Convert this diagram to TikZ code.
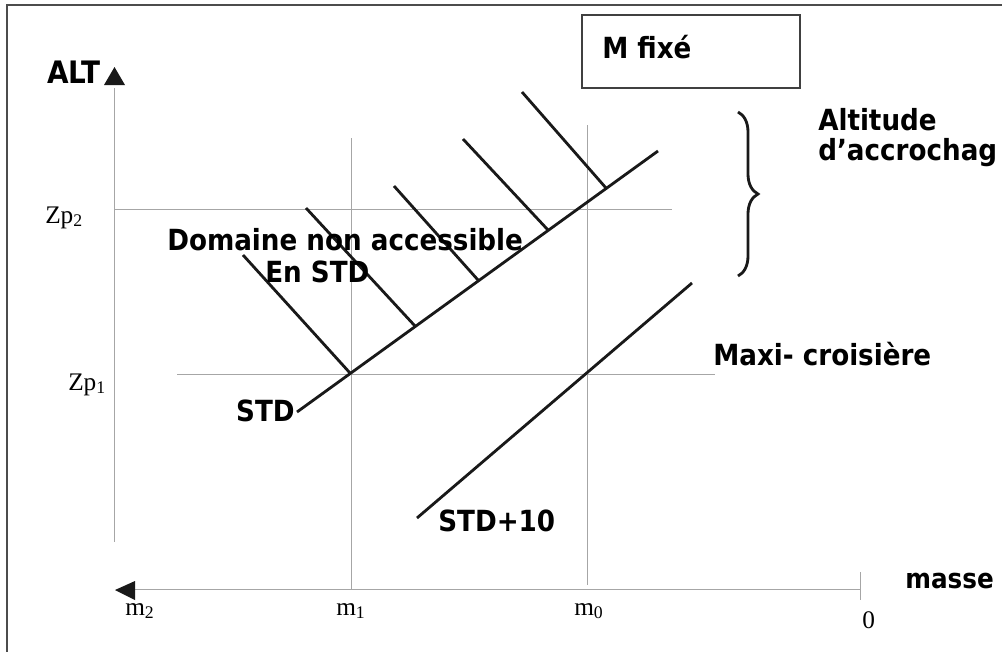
\documentclass[tikz,border=0pt]{standalone}
\usepackage{fontspec}
\setmainfont{DejaVu Sans Condensed}
\newfontfamily\numfont{Liberation Serif}
\usepackage{tikz}
\usetikzlibrary{positioning,decorations.pathreplacing}

\begin{document}
\begin{tikzpicture}[
    x=0.025cm, y=-0.025cm,
    lbl/.style={inner sep=0pt, anchor=base west, font=\fontsize{20.7}{22}\selectfont\bfseries},
    num/.style={inner sep=0pt, anchor=base west, font=\fontsize{18}{20}\selectfont\numfont},
    gridline/.style={draw=gray!70, line width=0.7pt},
    curve/.style={draw=black!90, line width=2pt},
    hatch/.style={draw=black!90, line width=2pt},
    frame/.style={draw=black!70, line width=1.6pt}
]
\useasboundingbox (0,0) rectangle (1002,652);

% Frame of the scanned figure
\draw[frame] (1002,5) -- (7,5) -- (7,652);

% Axes
\coordinate (ytop) at (114,88);
\coordinate (ybot) at (114,542);
\coordinate (xleft) at (135,589);
\coordinate (xright) at (860,589);
\draw[gridline] (ybot) -- (ytop);
\fill[black!90] (104,85) -- (125,85) -- (114.5,67) -- cycle;
\draw[gridline] (xleft) -- (xright);
\fill[black!90] (115,590) -- (135,581) -- (135,600) -- cycle;
\draw[gridline] (860,572) -- (860,600);

\node[lbl, font=\fontsize{22}{24}\selectfont\bfseries] (alt) at (47,83) {ALT};
\node[lbl, font=\fontsize{19.5}{22}\selectfont\bfseries] (masse) at (905,588) {masse};

% Reference altitudes and masses
\draw[gridline] (114,209) -- (672,209);
\draw[gridline] (177,374) -- (715,374);
\draw[gridline] (351,138) -- (351,589);
\draw[gridline] (587,125) -- (587,585);

\node[num] (zp2) at (45,223) {Zp\textsubscript{2}};
\node[num] (zp1) at (68,390) {Zp\textsubscript{1}};
\node[num] (m2) at (125,615) {m\textsubscript{2}};
\node[num] (m1) at (336,615) {m\textsubscript{1}};
\node[num] (m0) at (574,615) {m\textsubscript{0}};
\node[num] (zero) at (862,628) {0};

% STD line with its hatching
\coordinate (stdA) at (297,412);
\coordinate (stdB) at (658,151);
\draw[curve] (stdA) -- (stdB);
\foreach \xa/\ya/\xb/\yb in {350/373/243/255, 415/326/306/208,
    478/280/394/186, 548/230/463/139, 606/188/522/92}
    \draw[hatch] (\xa,\ya) -- (\xb,\yb);

\node[lbl, anchor=base east] (std) at (295,421) {STD};
\node[lbl] (dom) at (167,250) {Domaine non accessible};
\node[lbl] (enstd) at (265,282) {En STD};

% STD+10 line
\coordinate (hotA) at (417,518);
\coordinate (hotB) at (692,283);
\draw[curve] (hotA) -- (hotB);
\node[lbl] (std10) at (438,531) {STD+10};
\node[lbl] (maxi) at (713,365) {Maxi- croisi\`ere};

% Brace and altitude note
\draw[curve, line width=2pt, decorate, decoration={brace, amplitude=0.5cm}] (738,112) -- (738,276);
\node[lbl] (altitude) at (818,130) {Altitude};
\node[lbl] (accroch) at (818,160) {d’accrochag};

% Box
\draw[draw=black!75, line width=1pt] (582,15) rectangle (800,88);
\node[lbl] (mfixe) at (602,58) {M fixé};

\end{tikzpicture}
\end{document}
